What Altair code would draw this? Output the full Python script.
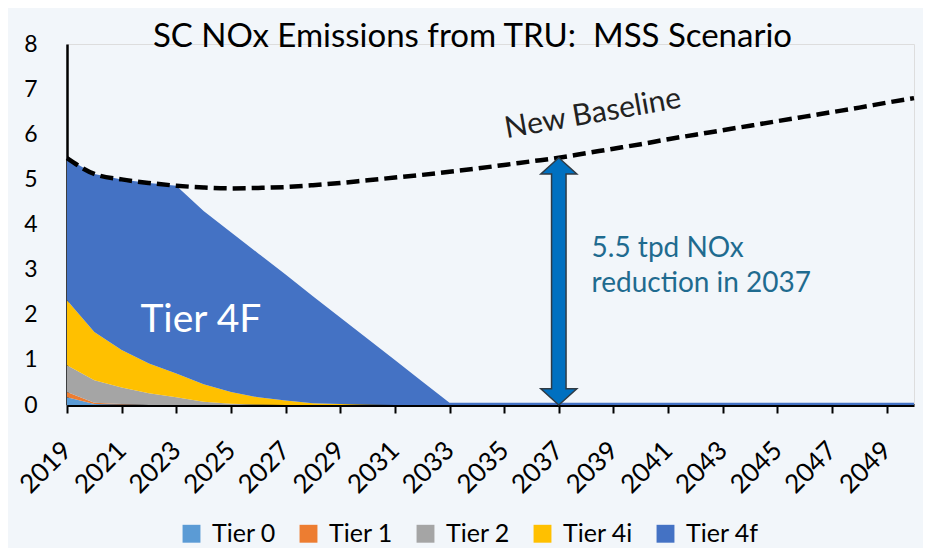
import altair as alt
import pandas as pd

years = [2019, 2020, 2021, 2022, 2023, 2024, 2025, 2026, 2027, 2028, 2029, 2030,
         2031, 2032, 2033, 2034, 2035, 2036, 2037, 2038, 2039, 2040, 2041, 2042,
         2043, 2044, 2045, 2046, 2047, 2048, 2049, 2050]

tier0 = [0.17, 0.02, 0.01, 0.0, 0.0, 0.0, 0.0, 0.0, 0.0, 0.0, 0.0, 0.0,
         0.0, 0.0, 0.0, 0.0, 0.0, 0.0, 0.0, 0.0, 0.0, 0.0, 0.0, 0.0,
         0.0, 0.0, 0.0, 0.0, 0.0, 0.0, 0.0, 0.0]
tier1 = [0.12, 0.03, 0.01, 0.0, 0.0, 0.0, 0.0, 0.0, 0.0, 0.0, 0.0, 0.0,
         0.0, 0.0, 0.0, 0.0, 0.0, 0.0, 0.0, 0.0, 0.0, 0.0, 0.0, 0.0,
         0.0, 0.0, 0.0, 0.0, 0.0, 0.0, 0.0, 0.0]
tier2 = [0.59, 0.50, 0.37, 0.26, 0.17, 0.07, 0.03, 0.01, 0.0, 0.0, 0.0, 0.0,
         0.0, 0.0, 0.0, 0.0, 0.0, 0.0, 0.0, 0.0, 0.0, 0.0, 0.0, 0.0,
         0.0, 0.0, 0.0, 0.0, 0.0, 0.0, 0.0, 0.0]
tier4i = [1.44, 1.07, 0.83, 0.66, 0.53, 0.39, 0.26, 0.16, 0.10, 0.04, 0.02, 0.01,
          0.0, 0.0, 0.0, 0.0, 0.0, 0.0, 0.0, 0.0, 0.0, 0.0, 0.0, 0.0,
          0.0, 0.0, 0.0, 0.0, 0.0, 0.0, 0.0, 0.0]
tier4f = [3.15, 3.50, 3.78, 4.00, 4.16, 3.84, 3.54, 3.19, 2.79, 2.37, 1.92, 1.46,
          1.00, 0.52, 0.05, 0.05, 0.05, 0.05, 0.05, 0.05, 0.05, 0.05, 0.05, 0.05,
          0.05, 0.05, 0.05, 0.05, 0.05, 0.05, 0.05, 0.05]

baseline = [5.47, 5.12, 5.00, 4.92, 4.86, 4.82, 4.80, 4.81, 4.83, 4.87, 4.92, 4.98,
            5.04, 5.10, 5.17, 5.24, 5.32, 5.40, 5.48, 5.58, 5.68, 5.78, 5.89, 5.99,
            6.09, 6.19, 6.29, 6.39, 6.49, 6.59, 6.70, 6.80]

tier_names = ["Tier 0", "Tier 1", "Tier 2", "Tier 4i", "Tier 4f"]
tier_colors = ["#5B9BD5", "#ED7D31", "#A5A5A5", "#FFC000", "#4472C4"]
tier_series = [tier0, tier1, tier2, tier4i, tier4f]

x_ticks = [2019, 2021, 2023, 2025, 2027, 2029, 2031, 2033, 2035, 2037, 2039,
           2041, 2043, 2045, 2047, 2049]
y_ticks = [0, 1, 2, 3, 4, 5, 6, 7, 8]

arrow_year = [2037]
arrow_top = [5.48]
arrow_bottom = [0.0]

FONT = "Lato"

rows = []
for k, (name, vals) in enumerate(zip(tier_names, tier_series)):
    for yr, v in zip(years, vals):
        rows.append({"year": yr, "value": v, "tier": name, "order": k})
area_df = pd.DataFrame(rows)
base_df = pd.DataFrame({"year": years, "value": baseline})
arrow_df = pd.DataFrame({"year": arrow_year, "top": arrow_top, "bottom": arrow_bottom})

x_scale = alt.Scale(domain=[2019, 2050], nice=False, zero=False)
y_scale = alt.Scale(domain=[0, 8], nice=False)
x_axis = alt.Axis(values=x_ticks, format="d", title=None, labelAngle=315,
                  labelAlign="right", labelBaseline="middle", labelFontSize=26,
                  labelPadding=33, tickSize=8, tickWidth=2, tickColor="black",
                  domainColor="black", domainWidth=3, grid=False, labelColor="black",
                  labelFont=FONT, labelOverlap=False, labelBound=False)
y_axis = alt.Axis(values=y_ticks, title=None, ticks=False, labelFontSize=23,
                  labelPadding=30, domainColor="black", domainWidth=2.5, grid=False,
                  labelColor="black", labelFont=FONT)


def X(field="year"):
    return alt.X(f"{field}:Q", scale=x_scale, axis=x_axis)


def Y(field, **kw):
    return alt.Y(f"{field}:Q", scale=y_scale, axis=y_axis, **kw)


areas = alt.Chart(area_df).mark_area(interpolate="linear", opacity=1).encode(
    x=X(),
    y=Y("value", stack="zero"),
    color=alt.Color("tier:N", scale=alt.Scale(domain=tier_names, range=tier_colors),
                    legend=alt.Legend(orient="none", legendX=112, legendY=477,
                                      direction="horizontal", title=None,
                                      symbolType="square", symbolSize=320,
                                      symbolStrokeWidth=0, labelFontSize=25,
                                      labelFont=FONT, labelColor="black",
                                      labelOffset=8, columnPadding=20, padding=0)),
    order=alt.Order("order:Q", sort="ascending"),
)

base_line = alt.Chart(base_df).mark_line(
    color="black", strokeWidth=4.5, strokeDash=[13, 6], interpolate="monotone"
).encode(x=X(), y=Y("value"))

shaft_outline = alt.Chart(arrow_df).mark_rule(
    color="#2F3B45", strokeWidth=16, yOffset=12, y2Offset=-12
).encode(x=X(), y=Y("top"), y2="bottom:Q")

head_up = alt.Chart(arrow_df).mark_point(
    shape="M0,0L1,0.9L-1,0.9Z", size=1296, filled=True, fill="#0070C0",
    stroke="#2F3B45", strokeWidth=1.5, opacity=1
).encode(x=X(), y=Y("top"))

head_down = alt.Chart(arrow_df).mark_point(
    shape="M0,0L1,-0.9L-1,-0.9Z", size=1296, filled=True, fill="#0070C0",
    stroke="#2F3B45", strokeWidth=1.5, opacity=1
).encode(x=X(), y=Y("bottom"))

shaft_inner = alt.Chart(arrow_df).mark_rule(
    color="#0070C0", strokeWidth=13, yOffset=14, y2Offset=-14
).encode(x=X(), y=Y("top"), y2="bottom:Q")

tier_label_df = pd.DataFrame({"year": [2023.9], "value": [1.88], "text": ["Tier 4F"]})
tier_label = alt.Chart(tier_label_df).mark_text(
    font=FONT, fontSize=39, color="white", align="center", baseline="middle"
).encode(x=X(), y=Y("value"), text="text:N")

bl_label_df = pd.DataFrame({"year": [2038.25], "value": [6.45], "text": ["New Baseline"]})
bl_label = alt.Chart(bl_label_df).mark_text(
    font=FONT, fontSize=30, color="#222222", align="center", baseline="middle", angle=350
).encode(x=X(), y=Y("value"), text="text:N")

red_df = pd.DataFrame({"year": [2038.2, 2038.2], "value": [3.29, 2.51],
                       "text": ["5.5 tpd NOx", "reduction in 2037"]})
red_label = alt.Chart(red_df).mark_text(
    font=FONT, fontSize=28, color="#1F6B8F", align="left", baseline="alphabetic"
).encode(x=X(), y=Y("value"), text="text:N")

chart = alt.layer(
    areas, base_line, shaft_outline, head_up, head_down, shaft_inner,
    tier_label, bl_label, red_label
).properties(
    width=847, height=361,
    title=alt.TitleParams("SC NOx Emissions from TRU:\u00a0 MSS Scenario", font=FONT,
                          fontSize=33, fontWeight="normal", color="black",
                          anchor="middle", dx=-18, offset=-21),
    autosize=alt.AutoSizeParams(type="none"),
    padding={"left": 59, "top": 36, "right": 9, "bottom": 143},
    background="#F2F6FA",
).configure_view(stroke=None).configure(font=FONT)

chart.save("out.html", embed_options={"renderer": "svg", "actions": False})
